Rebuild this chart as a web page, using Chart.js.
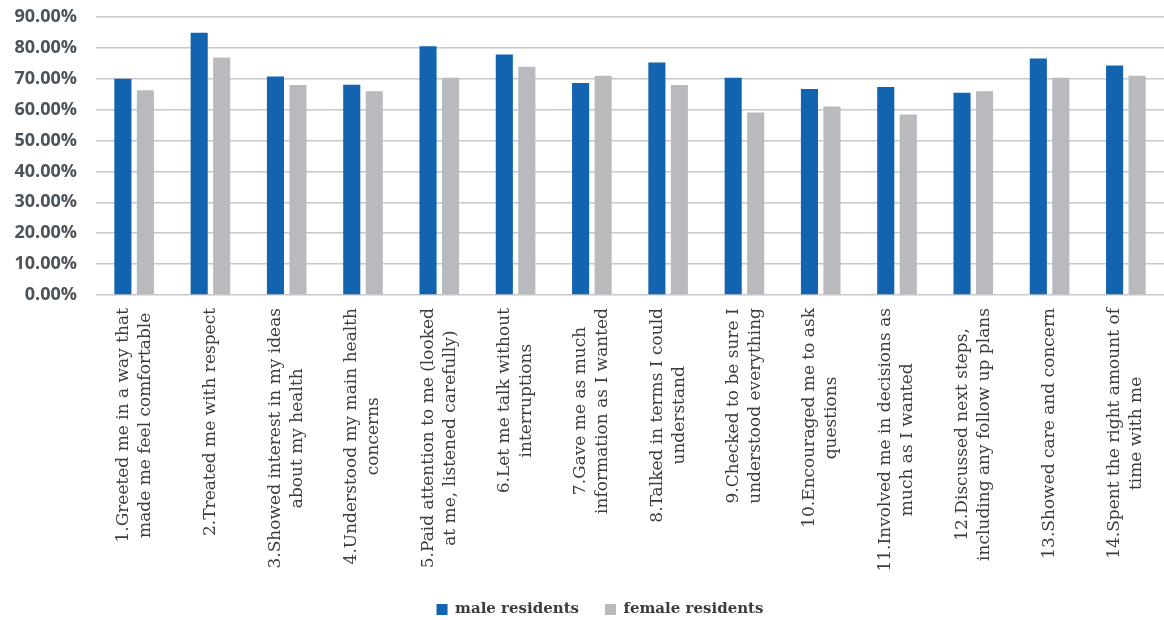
<!DOCTYPE html>
<html>
<head>
<meta charset="utf-8">
<script src="https://cdn.jsdelivr.net/npm/chart.js@4/dist/chart.umd.min.js"></script>
<style>
  html, body { margin: 0; padding: 0; background: #fff; }
  #wrap { width: 1164px; height: 620px; }
</style>
</head>
<body>
<div id="wrap"><canvas id="chart" width="1164" height="620"></canvas></div>
<script>
const categories = [
  ["1.Greeted me in a way that", "made me feel comfortable"],
  ["2.Treated me with respect"],
  ["3.Showed interest in my ideas", "about my health"],
  ["4.Understood my main health", "concerns"],
  ["5.Paid attention to me (looked", "at me, listened carefully)"],
  ["6.Let me talk without", "interruptions"],
  ["7.Gave me as much", "information as I wanted"],
  ["8.Talked in terms I could", "understand"],
  ["9.Checked to be sure I", "understood everything"],
  ["10.Encouraged me to ask", "questions"],
  ["11.Involved me in decisions as", "much as I wanted"],
  ["12.Discussed next steps,", "including any follow up plans"],
  ["13.Showed care and concern"],
  ["14.Spent the right amount of", "time with me"]
];
const maleResidents = [70.0, 84.9, 70.7, 68.1, 80.5, 77.9, 68.6, 75.3, 70.3, 66.7, 67.3, 65.5, 76.6, 74.3];
const femaleResidents = [66.3, 76.9, 68.0, 66.0, 70.3, 73.9, 71.0, 68.0, 59.1, 61.0, 58.4, 66.0, 70.3, 71.0];
const yTicks = [0, 10, 20, 30, 40, 50, 60, 70, 80, 90];

const labelFont = '17px "DejaVu Serif"';
const textColor = "#3a3d40";

// x labels: rotated, lines centred on each other, block top-aligned to the axis
const centredLabels = {
  id: "centredLabels",
  afterDraw(chart) {
    const xs = chart.scales.x;
    const ctx = chart.ctx;
    ctx.save();
    ctx.font = labelFont;
    ctx.fillStyle = textColor;
    ctx.textAlign = "center";
    ctx.textBaseline = "middle";
    const lh = 22;
    categories.forEach((lines, i) => {
      const x = xs.getPixelForTick(i);
      const maxW = Math.max(...lines.map((l) => ctx.measureText(l).width));
      ctx.save();
      ctx.translate(x, xs.top + 13 + maxW / 2);
      ctx.rotate(-Math.PI / 2);
      lines.forEach((l, j) => {
        ctx.fillText(l, 0, (j - (lines.length - 1) / 2) * lh);
      });
      ctx.restore();
    });
    ctx.restore();
  },
};

// the legend in the original sits a bit right of the canvas centre
const legendNudge = {
  id: "legendNudge",
  afterLayout(chart) {
    chart.legend.left += 18;
    chart.legend.right += 18;
  },
};

new Chart(document.getElementById("chart"), {
  type: "bar",
  data: {
    labels: categories,
    datasets: [
      {
        label: "male residents",
        data: maleResidents,
        backgroundColor: "#1264b0",
        categoryPercentage: 0.59,
        barPercentage: 0.76,
      },
      {
        label: "female residents",
        data: femaleResidents,
        backgroundColor: "#b8babd",
        categoryPercentage: 0.59,
        barPercentage: 0.76,
      },
    ],
  },
  options: {
    responsive: false,
    animation: false,
    layout: { padding: { top: 17, right: 0, left: 0, bottom: -7 } },
    plugins: {
      tooltip: { enabled: false },
      legend: {
        position: "bottom",
        labels: {
          boxWidth: 11,
          boxHeight: 11,
          padding: 26,
          color: textColor,
          font: { family: "DejaVu Serif", size: 15, weight: "bold" },
        },
      },
    },
    scales: {
      x: {
        grid: { display: false },
        border: { display: false },
        ticks: { display: false },
        afterFit(scale) {
          scale.height = 281;
        },
      },
      y: {
        min: 0,
        max: 90,
        afterBuildTicks(scale) {
          scale.ticks = yTicks.map((v) => ({ value: v }));
        },
        afterFit(scale) {
          scale.width = 96;
          scale.paddingTop = 0;
          scale.paddingBottom = 0;
        },
        grid: { color: "#c8c8c8", lineWidth: 1.5, drawTicks: false },
        border: { display: false },
        ticks: {
          padding: 19,
          color: "#4b535a",
          font: { family: "Open Sans", size: 18, weight: "bold" },
          callback: (v) => v.toFixed(2) + "%",
        },
      },
    },
  },
  plugins: [centredLabels, legendNudge],
});
</script>
</body>
</html>
